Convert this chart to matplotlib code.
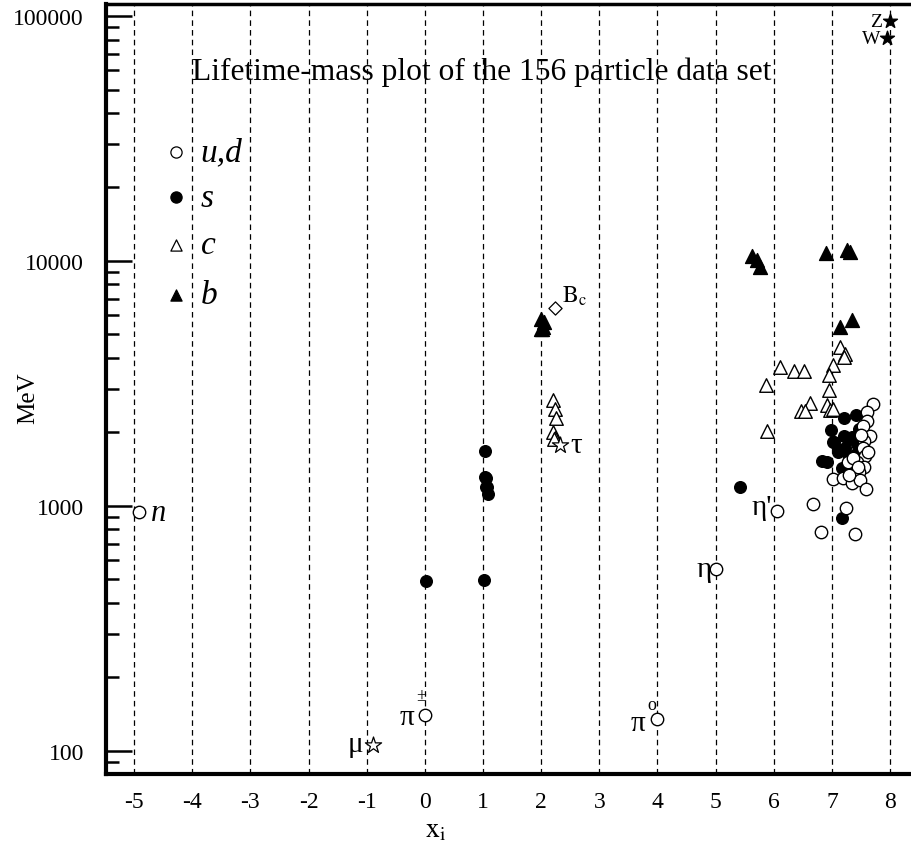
import matplotlib
matplotlib.use('Agg')
import matplotlib.pyplot as plt

plt.rcParams['font.family'] = ['Liberation Serif', 'DejaVu Serif']
plt.rcParams['mathtext.fontset'] = 'stix'
plt.rcParams['lines.scale_dashes'] = False

# u,d  (open circles)
ud_x = [-4.91, 0.0, 4.0, 5.01, 6.06,
        7.71, 7.60, 7.61, 7.54, 7.66, 7.55, 7.54, 7.57, 7.43, 7.28, 7.55, 7.46,
        7.02, 7.19, 7.34, 7.48, 7.59, 6.67, 7.24, 6.81, 7.40,
        7.50, 7.62, 7.36, 7.45, 7.30]
ud_y = [940, 139.6, 134.7, 552, 955,
        2600, 2421, 2223, 2123, 1920, 1841, 1714, 1599, 1512, 1504, 1435, 1377,
        1285, 1297, 1234, 1273, 1170, 1016, 979, 783, 766,
        1950, 1650, 1560, 1440, 1330]

# s  (filled circles)
s_x = [0.015, 1.03, 1.04, 1.06, 1.05, 1.07, 1.08, 1.01, 5.42, 7.18, 6.83, 6.91,
       7.20, 7.41, 6.99, 7.04, 7.21, 7.28, 7.14, 7.23, 7.17, 7.40, 7.43, 7.51,
       7.31, 7.26, 7.47, 7.02, 7.10, 7.41, 7.35, 7.30, 7.24]
s_y = [494, 1672, 1315, 1300, 1190, 1197, 1116, 497, 1197, 891, 1520, 1515,
       2275, 2344, 2036, 1825, 1930, 1871, 1687, 1714, 1422, 1592, 1786, 1841,
       1285, 1412, 2056, 1816, 1660, 1625, 1900, 1600, 1350]

# c  (open triangles)
c_x = [2.20, 2.23, 2.26, 2.21, 2.24, 2.22,
       7.14, 7.23, 7.21, 6.10, 6.35, 6.52, 7.02, 6.95, 5.87, 6.95, 6.62, 6.47,
       6.53, 6.91, 6.97, 7.02, 5.89]
c_y = [2710, 2483, 2281, 1995, 1884, 1865,
       4436, 4160, 4036, 3690, 3540, 3560, 3757, 3415, 3110, 2972, 2617, 2443,
       2443, 2583, 2465, 2483, 2023]

# b  (filled triangles)
b_x = [2.0, 2.02, 2.03, 2.05, 2.0, 5.62, 5.72, 5.76, 6.90, 7.26, 7.31, 7.14, 7.35]
b_y = [5280, 5280, 5370, 5620, 5800, 10480, 10090, 9400, 10740, 11090, 10880, 5350, 5730]

# leptons (mu, tau), B_c, Z/W
lep_x = [-0.9, 2.33]
lep_y = [105.7, 1777]
bc_x = [2.24]
bc_y = [6400]
zw_x = [8.0, 7.95]
zw_y = [95000, 81000]

x_grid = list(range(-5, 9))
y_ticks = [100, 1000, 10000, 100000]
y_labels = ['100', '1000', '10000', '100000']

fig = plt.figure(figsize=(9.11, 8.54), dpi=100)
ax = fig.add_axes([0.1164, 0.0925, 0.8815, 0.9016])
ax.set_yscale('log')
ax.set_xlim(-5.482, 8.327)
ax.set_ylim(80.3, 111700)

ax.set_xticks(x_grid)
ax.set_xticklabels([str(v) for v in x_grid])
ax.set_yticks(y_ticks)
ax.set_yticklabels(y_labels)
ax.grid(axis='x', color='black', lw=0.9, ls=(0, (4, 3)))
ax.set_axisbelow(True)

ax.tick_params(axis='x', length=0, pad=12, labelsize=17)
ax.tick_params(axis='y', which='major', direction='in', length=19, width=1.8, pad=16, labelsize=17)
ax.tick_params(axis='y', which='minor', direction='in', length=9.5, width=1.8)
ax.spines['right'].set_visible(False)
ax.spines['left'].set_linewidth(3)
ax.spines['bottom'].set_linewidth(3)
ax.spines['top'].set_linewidth(2.5)

ax.set_xlabel(r'$\mathrm{x_i}$', fontsize=20, labelpad=4)
ax.xaxis.label.set_x(0.41)
ax.set_ylabel('MeV', fontsize=18)
ax.yaxis.set_label_coords(-0.083, 0.49)

ax.scatter(c_x, c_y, marker='^', s=95, facecolors='white', edgecolors='black', linewidths=1, zorder=3)
ax.scatter(s_x, s_y, marker='o', s=70, color='black', zorder=3)
ax.scatter(ud_x, ud_y, marker='o', s=80, facecolors='white', edgecolors='black', linewidths=1, zorder=4)
ax.scatter(b_x, b_y, marker='^', s=100, color='black', zorder=3)
ax.scatter(lep_x, lep_y, marker='*', s=150, facecolors='white', edgecolors='black', linewidths=0.9, zorder=4)
ax.scatter(bc_x, bc_y, marker='D', s=45, facecolors='white', edgecolors='black', linewidths=0.9, zorder=4)
ax.scatter(zw_x, zw_y, marker='*', s=110, color='black', zorder=4)

# particle labels
ax.text(-4.71, 940, 'n', fontsize=22, style='italic', va='center', ha='left')
ax.text(-1.06, 100, 'μ', fontsize=21, va='baseline', ha='right')
ax.text(-0.186, 128.5, 'π', fontsize=21, va='baseline', ha='right')
ax.text(-0.066, 167.6, '±', fontsize=13, va='center', ha='center')
ax.text(3.787, 121.8, 'π', fontsize=21, va='baseline', ha='right')
ax.text(3.907, 155, 'o', fontsize=13, va='center', ha='center')
ax.text(4.934, 518, 'η', fontsize=21, va='baseline', ha='right')
ax.text(5.97, 925, "η'", fontsize=21, va='baseline', ha='right')
ax.text(2.509, 1660, 'τ', fontsize=21, va='baseline', ha='left')
ax.text(2.354, 6807, r'$\mathrm{B_c}$', fontsize=17, va='baseline', ha='left')
ax.text(7.87, 95000, 'Z', fontsize=14, va='center', ha='right')
ax.text(7.83, 81000, 'W', fontsize=14, va='center', ha='right')

ax.text(-4.0, 59400, 'Lifetime-mass plot of the 156 particle data set', fontsize=22.7, va='center', ha='left')

# legend
leg_y = [0.808, 0.749, 0.687, 0.622]
leg_labels = ['u,d', 's', 'c', 'b']
leg_marker = ['o', 'o', '^', '^']
leg_face = ['white', 'black', 'white', 'black']
for yy, lab, mk, fc in zip(leg_y, leg_labels, leg_marker, leg_face):
    ax.scatter([0.0868], [yy], marker=mk, s=65, facecolors=fc, edgecolors='black',
               linewidths=0.9, transform=ax.transAxes, clip_on=False, zorder=5)
    ax.text(0.118, yy, lab, fontsize=24, style='italic', va='center', ha='left', transform=ax.transAxes)

fig.savefig('out.png', dpi=100)
